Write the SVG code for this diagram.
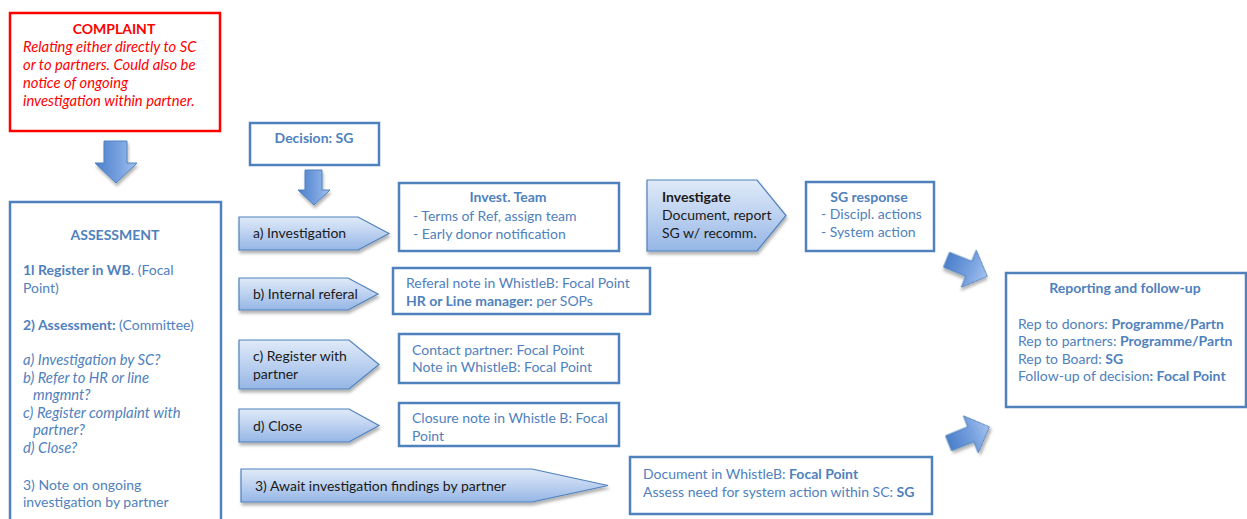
<svg xmlns="http://www.w3.org/2000/svg" width="1247" height="519" viewBox="0 0 1247 519">
<defs>
<linearGradient id="pg" x1="0" y1="0" x2="0" y2="1">
<stop offset="0" stop-color="#e0eaf8"/>
<stop offset="0.5" stop-color="#bcd1f0"/>
<stop offset="1" stop-color="#95b6e5"/>
</linearGradient>
<linearGradient id="ag" x1="0" y1="0" x2="1" y2="0">
<stop offset="0" stop-color="#4a7fcb"/>
<stop offset="0.6" stop-color="#7aa3e0"/>
<stop offset="1" stop-color="#a4c2ee"/>
</linearGradient>
<filter id="sh" x="-10%" y="-20%" width="130%" height="160%">
<feDropShadow dx="1" dy="3" stdDeviation="1.5" flood-color="#000" flood-opacity="0.3"/>
</filter>
</defs>
<style>
text{font-family:Lato,"Liberation Sans",sans-serif;font-size:14px;fill:#4f81bd}
.b{font-weight:bold}
.i{font-style:italic;font-size:14.8px}
.red{fill:#ff0000}
.dark{fill:#1a1a1a}
.box{fill:#fff;stroke:#4f81bd;stroke-width:2.5}
.pent{fill:url(#pg);stroke:#4f81bd;stroke-width:1.2;filter:url(#sh)}
.arr{fill:url(#ag);stroke:#4f81bd;stroke-width:1;filter:url(#sh)}
.c{text-anchor:middle}
</style>
<rect width="1247" height="519" fill="#fff"/>

<g id="complaint">
<rect x="10" y="13" width="210" height="118" fill="#fff" stroke="#ff0000" stroke-width="2.5"/>
<text class="b red c" x="114" y="34">COMPLAINT</text>
<text class="i red" x="23" y="52">Relating either directly to SC</text>
<text class="i red" x="23" y="70">or to partners. Could also be</text>
<text class="i red" x="23" y="88">notice of ongoing</text>
<text class="i red" x="23" y="106">investigation within partner.</text>
</g>

<g id="assessment">
<rect class="box" x="10" y="202" width="211" height="330"/>
<text class="b c" x="115" y="240">ASSESSMENT</text>
<text x="23" y="275"><tspan class="b">1l Register in WB</tspan>. (Focal</text>
<text x="23" y="293">Point)</text>
<text x="23" y="330"><tspan class="b">2) Assessment:</tspan> (Committee)</text>
<text class="i" x="23" y="365">a) Investigation by SC?</text>
<text class="i" x="23" y="383">b) Refer to HR or line</text>
<text class="i" x="33" y="400">mngmnt?</text>
<text class="i" x="23" y="418">c) Register complaint with</text>
<text class="i" x="33" y="435">partner?</text>
<text class="i" x="23" y="453">d) Close?</text>
<text x="23" y="490">3) Note on ongoing</text>
<text x="23" y="507">investigation by partner</text>
</g>

<g id="decision">
<rect class="box" x="250" y="123" width="129" height="42"/>
<text class="b c" x="314" y="143">Decision: SG</text>
</g>

<g id="opt-a">
<path class="pent" d="M239,217 H358 L389,233.5 L358,250 H239 Z"/>
<text class="dark" x="253" y="238">a) Investigation</text>
</g>
<g id="opt-b">
<path class="pent" d="M239,278 H348 L378,294 L348,310 H239 Z"/>
<text class="dark" x="253" y="299">b) Internal referal</text>
</g>
<g id="opt-c">
<path class="pent" d="M239,340 H349 L379,364.5 L349,389 H239 Z"/>
<text class="dark" x="253" y="361">c) Register with</text>
<text class="dark" x="253" y="379">partner</text>
</g>
<g id="opt-d">
<path class="pent" d="M239,409 H349 L379,425.5 L349,442 H239 Z"/>
<text class="dark" x="253" y="431">d) Close</text>
</g>
<g id="opt-3">
<path class="pent" d="M241,469 H532 L608,485.5 L532,502 H241 Z"/>
<text class="dark" x="255" y="491">3) Await investigation findings by partner</text>
</g>

<g id="invest-team">
<rect class="box" x="399" y="183" width="220" height="68"/>
<text class="b c" x="508" y="202">Invest. Team</text>
<text x="413" y="221">-  Terms of Ref, assign team</text>
<text x="413" y="239">-  Early donor notification</text>
</g>

<g id="referal-note">
<rect class="box" x="393" y="268" width="257" height="46"/>
<text x="406" y="288">Referal note in WhistleB: Focal Point</text>
<text x="406" y="306"><tspan class="b">HR or Line manager:</tspan> per SOPs</text>
</g>

<g id="contact-partner">
<rect class="box" x="399" y="334" width="220" height="49"/>
<text x="412" y="355">Contact partner: Focal Point</text>
<text x="412" y="372">Note in WhistleB: Focal Point</text>
</g>

<g id="closure-note">
<rect class="box" x="399" y="403" width="220" height="43"/>
<text x="412" y="423">Closure note in Whistle B: Focal</text>
<text x="412" y="441">Point</text>
</g>

<g id="investigate">
<path class="pent" d="M647,180 H757 L786,215.5 L757,251 H647 Z"/>
<text class="dark b" x="662" y="202">Investigate</text>
<text class="dark" x="662" y="220">Document, report</text>
<text class="dark" x="662" y="238">SG w/ recomm.</text>
</g>

<g id="sg-response">
<rect class="box" x="806" y="182" width="128" height="69"/>
<text class="b c" x="869" y="202">SG response</text>
<text x="821" y="219">-  Discipl. actions</text>
<text x="821" y="237">-  System action</text>
</g>

<g id="document-whistleb">
<rect class="box" x="630" y="457" width="302" height="57"/>
<text x="643" y="479">Document in WhistleB: <tspan class="b">Focal Point</tspan></text>
<text x="643" y="497">Assess need for system action within SC: <tspan class="b">SG</tspan></text>
</g>

<g id="reporting">
<rect class="box" x="1006" y="273" width="240" height="134"/>
<text class="b c" x="1125" y="293">Reporting and follow-up</text>
<text x="1018" y="329">Rep to donors: <tspan class="b">Programme/Partn</tspan></text>
<text x="1018" y="346">Rep to partners: <tspan class="b">Programme/Partn</tspan></text>
<text x="1018" y="364">Rep to Board: <tspan class="b">SG</tspan></text>
<text x="1018" y="381">Follow-up of decision<tspan class="b">: Focal Point</tspan></text>
</g>

<g id="connectors">
<path class="arr" d="M104,141 H127 V163 H137 L116,183 L95,163 H104 Z"/>
<path class="arr" d="M305,170 H322 V190 H330 L314,205 L298,190 H305 Z"/>
<path class="arr" transform="translate(967,268) rotate(22)" d="M-22,-8 H2 V-20 L22,0 L2,20 V8 H-22 Z"/>
<path class="arr" transform="translate(969,435) rotate(-22)" d="M-22,-8 H2 V-20 L22,0 L2,20 V8 H-22 Z"/>
</g>
</svg>
